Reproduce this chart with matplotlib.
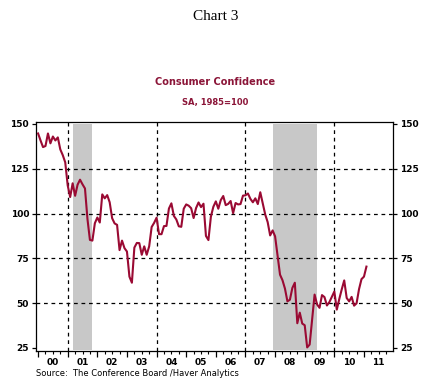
import matplotlib
matplotlib.use("Agg")
import matplotlib.pyplot as plt
from matplotlib.ticker import FixedLocator, MultipleLocator, NullFormatter
import numpy as np

# Monthly Consumer Confidence, SA 1985=100, Jan 2000 - Feb 2011
conf_2000 = [144.7, 140.8, 137.1, 137.7, 144.7, 139.2, 143.0, 140.8, 142.5, 135.8, 132.6, 128.6]
conf_2001 = [115.7, 109.2, 116.9, 109.9, 116.1, 118.9, 116.3, 114.0, 97.0, 85.3, 84.9, 94.6]
conf_2002 = [97.8, 95.0, 110.7, 108.5, 110.3, 106.3, 97.4, 94.5, 93.7, 79.6, 84.9, 80.7]
conf_2003 = [78.8, 64.8, 61.4, 81.0, 83.6, 83.5, 77.0, 81.7, 77.0, 81.7, 92.5, 94.8]
conf_2004 = [97.7, 88.5, 88.5, 93.0, 93.1, 102.8, 105.7, 98.7, 96.7, 92.9, 92.6, 102.7]
conf_2005 = [105.1, 104.4, 103.0, 97.5, 103.1, 106.2, 103.6, 105.5, 87.5, 85.2, 98.3, 103.8]
conf_2006 = [106.8, 102.7, 107.5, 109.8, 104.7, 105.4, 107.0, 100.2, 105.9, 105.1, 105.3, 110.0]
conf_2007 = [110.2, 111.2, 108.2, 106.3, 108.5, 105.3, 111.9, 105.6, 99.5, 95.2, 87.8, 90.6]
conf_2008 = [87.3, 76.4, 65.9, 62.8, 58.1, 51.0, 51.9, 58.5, 61.4, 38.8, 44.7, 38.6]
conf_2009 = [37.7, 25.3, 26.9, 40.8, 54.8, 49.3, 47.4, 54.5, 53.4, 48.7, 50.6, 53.6]
conf_2010 = [56.5, 46.4, 52.3, 57.7, 62.7, 52.9, 51.0, 53.5, 48.6, 49.9, 57.8, 63.4]
conf_2011 = [64.8, 70.4]

values = (conf_2000 + conf_2001 + conf_2002 + conf_2003 + conf_2004 + conf_2005 +
          conf_2006 + conf_2007 + conf_2008 + conf_2009 + conf_2010 + conf_2011)
start_year = 2000
months = start_year + np.arange(len(values)) / 12.0

# Recessions (start, end) as decimal years
recessions = [(2001 + 2/12, 2001 + 10/12), (2007 + 11/12, 2009 + 5/12)]

year_labels = ["00", "01", "02", "03", "04", "05", "06", "07", "08", "09", "10", "11"]
y_ticks = [25, 50, 75, 100, 125, 150]
grid_y = [50, 75, 100, 125]
grid_x = [2001, 2004, 2007, 2010]

line_color = "#9a0a33"
title_color = "#8b1538"

fig = plt.figure(figsize=(4.31, 3.84), dpi=100)
ax = fig.add_axes([36/431, 1 - 351/384, (393-36)/431, (351-122)/384])

ylo, yhi = 23.3, 151.1
ax.set_xlim(1999.93, 2011.98)
ax.set_ylim(ylo, yhi)

for s, e in recessions:
    ax.fill_between([s, e], ylo + 0.3, 150, color="#c8c8c8", lw=0, zorder=1)

for g in grid_y:
    ax.axhline(g, color="black", lw=0.9, ls=(0, (3, 3)), zorder=2)
for g in grid_x:
    ax.axvline(g, color="black", lw=0.9, ls=(0, (3, 3)), zorder=2)

ax.plot(months, values, color=line_color, lw=1.5, zorder=3, solid_joinstyle="round")

for sp in ax.spines.values():
    sp.set_linewidth(0.9)

# x axis ticks
ax.xaxis.set_major_locator(FixedLocator(np.arange(2000, 2013)))
ax.xaxis.set_minor_locator(MultipleLocator(0.25))
ax.xaxis.set_major_formatter(NullFormatter())
ax.tick_params(axis="x", which="major", direction="out", length=4, width=0.9)
ax.tick_params(axis="x", which="minor", direction="out", length=2, width=0.8)
for i, lab in enumerate(year_labels):
    ax.text(start_year + i + 0.5, -0.05, lab, transform=ax.get_xaxis_transform(),
            ha="center", va="center", fontsize=6.5, fontweight="bold",
            family="DejaVu Sans")

# y axis ticks both sides
ax.set_yticks(y_ticks)
ax.set_yticklabels([str(t) for t in y_ticks])
ax.tick_params(axis="y", which="major", direction="out", length=3, width=0.9,
               left=True, right=True, labelleft=True, labelright=True,
               labelsize=6.5, pad=2)
for t in ax.yaxis.get_major_ticks():
    t.label1.set_fontweight("bold")
    t.label2.set_fontweight("bold")

fig.text(0.5, 1 - 16/384, "Chart 3", ha="center", va="center",
         fontsize=11, family="Liberation Serif")
fig.text(0.5, 1 - 82/384, "Consumer Confidence",
         ha="center", va="center", fontsize=7, fontweight="bold",
         color=title_color, family="DejaVu Sans")
fig.text(0.5, 1 - 103/384, "SA, 1985=100", ha="center", va="center",
         fontsize=6, fontweight="bold", color=title_color, family="DejaVu Sans")
fig.text(36/431, 1 - 374/384,
         "Source:  The Conference Board /Haver Analytics",
         ha="left", va="center", fontsize=6, family="DejaVu Sans")

fig.savefig("out.png", dpi=100)
